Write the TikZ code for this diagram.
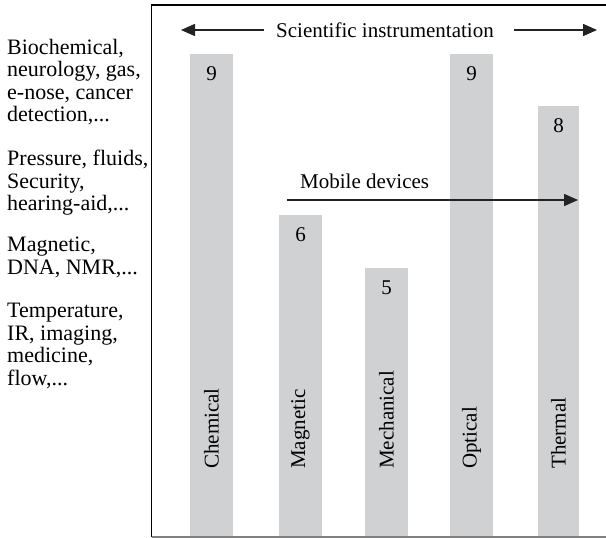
\documentclass[tikz,border=0pt]{standalone}
\usepackage{fontspec}
\setmainfont{Liberation Serif}
\usetikzlibrary{arrows.meta}
\definecolor{barfill}{RGB}{208,209,211}
\definecolor{linegray}{RGB}{35,35,35}
\begin{document}
\begin{tikzpicture}[x=1pt,y=-1pt,
  every node/.style={font=\fontsize{21}{23}\selectfont, inner sep=0pt},
  bar/.style={fill=barfill, draw=none, minimum width=43, anchor=south},
  value/.style={anchor=center},
  sensor/.style={rotate=90, anchor=west},
  apps/.style={align=left, anchor=north west, font=\fontsize{22}{22.5}\selectfont},
  arrowline/.style={draw=linegray, line width=1.6pt, -{Triangle[length=14pt,width=12pt]}},
]
\useasboundingbox (0,0) rectangle (606,538);

% frame (open on the right)
\draw[black, line width=1.3pt] (612,5) -- (151.7,5) -- (151.7,537);
\draw[gray, line width=1.3pt] (151.7,537) -- (612,537);

% bars
\node[bar, minimum height=482] (chem) at (211.5,536.5) {};
\node[bar, minimum height=321] (magn) at (300.5,536.5) {};
\node[bar, minimum height=268] (mech) at (386.5,536.5) {};
\node[bar, minimum height=482] (opti) at (471.5,536.5) {};
\node[bar, minimum width=41, minimum height=430] (ther) at (558.5,536.5) {};

% scores
\node[value] (vchem) at ([yshift=-20pt]chem.north) {9};
\node[value] (vmagn) at ([yshift=-20pt]magn.north) {6};
\node[value] (vmech) at ([yshift=-20pt]mech.north) {5};
\node[value] (vopti) at ([yshift=-20pt]opti.north) {9};
\node[value] (vther) at ([yshift=-20pt]ther.north) {8};

% sensor types
\node[sensor] (lchem) at (211.5,469) {Chemical};
\node[sensor] (lmagn) at (300.5,469) {Magnetic};
\node[sensor] (lmech) at (386.5,469) {Mechanical};
\node[sensor] (lopti) at (471.5,469) {Optical};
\node[sensor] (lther) at (558.5,469) {Thermal};

% application areas
\node[apps] (a1) at (7,39) {Biochemical,\\neurology, gas,\\e-nose, cancer\\detection,...};
\node[apps] (a2) at (7,150) {Pressure, fluids,\\Security,\\hearing-aid,...};
\node[apps] (a3) at (7,237) {Magnetic,\\DNA, NMR,...};
\node[apps] (a4) at (7,303) {Temperature,\\IR, imaging,\\medicine,\\flow,...};

% scientific instrumentation range
\node (sci) at (385,30) {Scientific instrumentation};
\coordinate (sciL) at (181,30);
\coordinate (sciR) at (597,30);
\draw[arrowline] ([xshift=-12pt]sci.west) -- (sciL);
\draw[arrowline] ([xshift=20pt]sci.east) -- (sciR);

% mobile devices range
\node[anchor=south west] (mob) at (300,189) {Mobile devices};
\coordinate (mobL) at (287,200);
\coordinate (mobR) at (578,200);
\draw[arrowline] (mobL) -- (mobR);
\end{tikzpicture}
\end{document}
